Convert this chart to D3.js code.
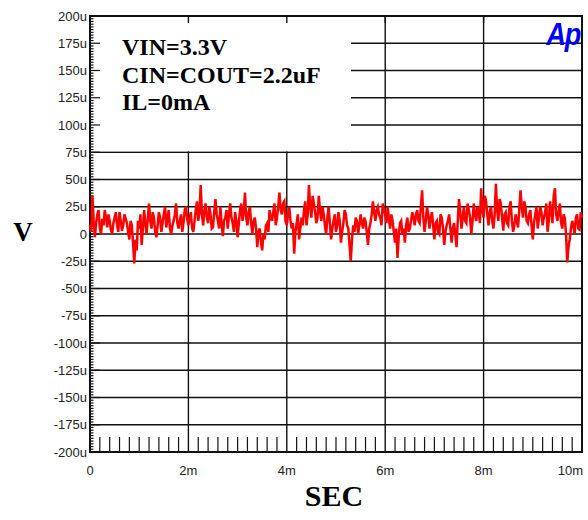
<!DOCTYPE html>
<html>
<head>
<meta charset="utf-8">
<script src="https://cdn.jsdelivr.net/npm/d3@7"></script>
<style>
  body { margin: 0; background: #fff; }
  svg { display: block; }
</style>
</head>
<body>
<svg id="chart" width="588" height="520"></svg>
<script>
// noise trace, microvolts, one sample every 0.025 ms
const noiseUv = [
  8, 2, 35, 12, -3, 10, 18, 22, 5, 0,
  14, 8, 22, 15, 6, 18, 12, 4, 0, 10,
  15, 20, 8, 2, 20, 12, 3, 8, 18, 14,
  10, 2, -5, 12, 8, -8, -27, -5, -15, 12,
  5, 18, -10, 5, 22, 10, 0, 14, 28, 12,
  5, 20, 15, 2, -3, 8, 20, 15, 2, 10,
  18, 25, 6, 14, 22, 5, 0, 8, 12, 18,
  28, 10, 5, 12, 18, 2, 10, 22, 25, 14,
  8, 15, 20, 5, 2, 12, 22, 30, 12, 20,
  45, 18, 8, 22, 28, 15, 10, 25, 18, 5,
  6, 20, 32, 18, 12, 5, 25, 10, -2, 12,
  15, 22, 5, 18, 28, 15, 10, 2, 20, 12,
  -3, 10, 22, 28, 12, 20, 38, 15, 8, 20,
  25, 10, 0, 12, 15, 5, -12, 2, 5, -8,
  -15, 0, -5, 8, 10, 2, 22, 15, 12, 20,
  28, 8, 15, 25, 38, 22, 18, 28, 30, 12,
  8, 18, 25, 12, 5, 10, -18, 2, 10, 18,
  -5, 5, 15, 8, 22, 30, 8, 18, 45, 25,
  15, 35, 28, 20, 10, 15, 35, 22, 12, 25,
  18, 8, 0, 15, 25, 10, -5, 5, 12, 18,
  2, 8, 20, 12, -8, 2, 10, 22, 18, 8,
  5, -10, -25, -5, 8, 2, 15, 12, 0, 8,
  18, 10, 5, 15, 12, 2, -10, 5, 10, 18,
  30, 20, 12, 22, 25, 18, 15, 8, 28, 22,
  18, 10, 25, 15, 5, 18, 12, 2, -8, 5,
  -22, -2, 10, 12, 0, 5, -8, 8, 15, 2,
  5, 12, 20, 15, 8, 18, 22, 12, 10, 25,
  40, 15, 2, 12, 25, 18, 5, 15, 20, 8,
  -5, 10, 12, 2, 0, 18, 15, 5, -10, 2,
  8, 12, 18, 5, -8, 5, 10, 0, -12, 12,
  32, 20, 5, 15, 25, 12, 10, 28, 22, 15,
  0, 12, 28, 18, 12, 25, 20, 10, 42, 22,
  15, 35, 30, 18, 8, 20, 25, 12, 5, 18,
  46, 22, 12, 32, 28, 15, 3, 18, 20, 10,
  8, 25, 30, 12, 2, 8, 18, 12, 6, 22,
  40, 25, 15, 30, 25, 12, 10, 18, 22, 8,
  -5, 10, 18, 25, 5, 15, 25, 20, 8, 15,
  20, 28, 2, 12, 30, 22, 10, 35, 42, 18,
  12, 20, 28, 10, 5, 18, 15, 0, -26, -12,
  -5, 5, 12, 8, 0, 15, 18, 5, 4, 20,
  15
];
const sampleMs = 0.025;

const yTickValues = d3.range(200, -201, -25);
const yTickLabels = yTickValues.map(v => v === 0 ? '0' : v + 'u');
const xTickValues = [0, 2, 4, 6, 8, 10];
const xTickLabels = ['0', '2m', '4m', '6m', '8m', '10m'];
const legendLines = ['VIN=3.3V', 'CIN=COUT=2.2uF', 'IL=0mA'];

const svg = d3.select('#chart');
const plot = { left: 90, right: 582, top: 16, bottom: 452 };

const x = d3.scaleLinear().domain([0, 10]).range([plot.left, plot.right]);
const y = d3.scaleLinear().domain([-200, 200]).range([plot.bottom, plot.top]);

const g = svg.append('g');

// grid
g.selectAll('.hgrid')
  .data(yTickValues.filter(v => v > -200 && v < 200))
  .enter().append('line')
  .attr('x1', plot.left).attr('x2', plot.right)
  .attr('y1', d => y(d)).attr('y2', d => y(d))
  .attr('stroke', '#111').attr('stroke-width', 1.4);

g.selectAll('.vgrid')
  .data(xTickValues.filter(v => v > 0 && v < 10))
  .enter().append('line')
  .attr('x1', d => x(d)).attr('x2', d => x(d))
  .attr('y1', plot.top).attr('y2', plot.bottom)
  .attr('stroke', '#111').attr('stroke-width', 1.4);

// legend box hides the grid behind it
g.append('rect')
  .attr('x', plot.left + 1).attr('y', plot.top + 1)
  .attr('width', 260).attr('height', y(75) - plot.top - 2)
  .attr('fill', '#fff');

// left ticks: minor every 2.5u, major every 25u
g.selectAll('.yminor')
  .data(d3.range(-200, 200.1, 2.5))
  .enter().append('line')
  .attr('x1', plot.left).attr('x2', d => plot.left + (d % 25 === 0 ? 10 : 3.5))
  .attr('y1', d => y(d)).attr('y2', d => y(d))
  .attr('stroke', '#111').attr('stroke-width', 1.2);

// top major ticks
g.selectAll('.xtop')
  .data(xTickValues.filter(v => v > 0 && v < 10))
  .enter().append('line')
  .attr('x1', d => x(d)).attr('x2', d => x(d))
  .attr('y1', plot.top).attr('y2', plot.top + 7)
  .attr('stroke', '#111').attr('stroke-width', 1.4);

// bottom minor ticks every 0.2 ms
g.selectAll('.xminor')
  .data(d3.range(0.2, 10, 0.2).filter(v => Math.abs(v / 2 - Math.round(v / 2)) > 0.01))
  .enter().append('line')
  .attr('x1', d => x(d)).attr('x2', d => x(d))
  .attr('y1', plot.bottom - 15).attr('y2', plot.bottom)
  .attr('stroke', '#111').attr('stroke-width', 1.2);

// plot border
g.append('rect')
  .attr('x', plot.left).attr('y', plot.top)
  .attr('width', plot.right - plot.left).attr('height', plot.bottom - plot.top)
  .attr('fill', 'none').attr('stroke', '#111').attr('stroke-width', 2);

// trace
const line = d3.line()
  .x((d, i) => x(i * sampleMs))
  .y(d => y(d));

g.append('path')
  .datum(noiseUv)
  .attr('d', line)
  .attr('fill', 'none')
  .attr('stroke', '#ff0000')
  .attr('stroke-width', 2.5)
  .attr('stroke-linejoin', 'miter');

// tick labels
const tickFont = '"Liberation Sans Narrow", "Arial Narrow", "Liberation Sans", sans-serif';
g.selectAll('.ylab')
  .data(yTickValues)
  .enter().append('text')
  .attr('x', plot.left - 3)
  .attr('y', d => y(d) + 4.5)
  .attr('text-anchor', 'end')
  .style('font', `13px ${tickFont}`)
  .attr('fill', '#222')
  .text((d, i) => yTickLabels[i]);

g.selectAll('.xlab')
  .data(xTickValues)
  .enter().append('text')
  .attr('x', d => d === 10 ? x(d) + 1 : x(d))
  .attr('y', plot.bottom + 23)
  .attr('text-anchor', d => d === 10 ? 'end' : 'middle')
  .style('font', `13px ${tickFont}`)
  .attr('fill', '#222')
  .text((d, i) => xTickLabels[i]);

// legend text
g.selectAll('.legend')
  .data(legendLines)
  .enter().append('text')
  .attr('x', 122)
  .attr('y', (d, i) => 55 + i * 27.5)
  .style('font', 'bold 24px "Liberation Serif", "Times New Roman", serif')
  .attr('fill', '#000')
  .text(d => d);

// axis titles
g.append('text')
  .attr('x', 23).attr('y', 241)
  .attr('text-anchor', 'middle')
  .style('font', 'bold 27px "Liberation Serif", "Times New Roman", serif')
  .text('V');

g.append('text')
  .attr('x', 334).attr('y', 506)
  .attr('text-anchor', 'middle')
  .style('font', 'bold 30px "Liberation Serif", "Times New Roman", serif')
  .text('SEC');

// Ap logo
g.append('text')
  .attr('transform', 'translate(580,45) scale(0.88,1)')
  .attr('text-anchor', 'end')
  .style('font', 'italic bold 31px "Liberation Sans", Arial, sans-serif')
  .attr('fill', '#0000ff')
  .attr('letter-spacing', -1.5)
  .text('Ap');
</script>
</body>
</html>
